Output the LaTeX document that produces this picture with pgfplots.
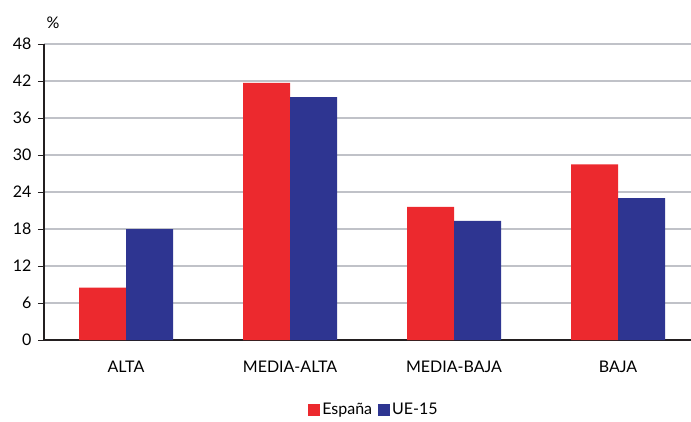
\documentclass[border=0pt]{standalone}
\usepackage{fontspec}
\setmainfont{Lato}
\usepackage{pgfplots}
\pgfplotsset{compat=1.18}
\definecolor{espred}{RGB}{236,41,46}
\definecolor{uenavy}{RGB}{46,53,145}
\definecolor{gridgray}{RGB}{192,194,200}
\definecolor{axisdark}{RGB}{35,31,32}

\begin{document}
\fontsize{16}{18}\selectfont
\begin{tikzpicture}
\begin{axis}[
  scale only axis, width=647pt, height=296pt,
  xmin=-0.5, xmax=3.445, ymin=0, ymax=48,
  ybar=0pt, bar width=47pt,
  ytick={0,6,...,48},
  ymajorgrids, grid style={gridgray, line width=1.5pt},
  axis x line*=bottom, axis y line*=left,
  axis line style={axisdark, line width=1.2pt},
  tick style={axisdark, line width=1pt},
  tick align=outside, major tick length=6pt,
  xtick={0,1,2,3},
  xticklabels={ALTA,MEDIA-ALTA,MEDIA-BAJA,BAJA},
  x tick style={draw=none},
  extra x ticks={0.5,1.5,2.5},
  extra x tick labels={},
  extra x tick style={grid=none, tick style={draw=axisdark, line width=1pt}},
  xticklabel style={yshift=-10pt},
  yticklabel style={xshift=-1pt},
  /pgf/number format/assume math mode=true,
  ticklabel style={font=\fontsize{16}{18}\selectfont},
  legend style={at={(0.51,-0.236)}, anchor=center, draw=none,
    font=\fontsize{16}{18}\selectfont,
    /tikz/every even column/.append style={column sep=4pt}},
  legend columns=2,
  legend image code/.code={\fill[#1] (0pt,-6pt) rectangle (12pt,6pt);},
]
\addplot[fill=espred, draw=none] coordinates {(0,8.5) (1,41.7) (2,21.6) (3,28.5)};
\addplot[fill=uenavy, draw=none] coordinates {(0,18.0) (1,39.4) (2,19.3) (3,23.0)};
\legend{España,UE-15}
\end{axis}
\node at (9pt,317pt) {\%};
\pgfresetboundingbox
\path[use as bounding box] (-44pt,-81pt) rectangle (647pt,340pt);
\end{tikzpicture}
\end{document}
